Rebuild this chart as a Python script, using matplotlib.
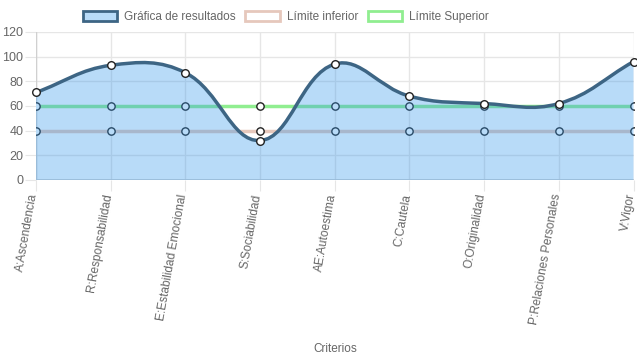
import numpy as np
import matplotlib.pyplot as plt
import matplotlib.transforms as mtransforms
from matplotlib.path import Path
from matplotlib.patches import PathPatch, Patch

plt.rcParams['font.family'] = ['Liberation Sans', 'DejaVu Sans']

# Data
criterios = ['A:Ascendencia', 'R:Responsabilidad', 'E:Estabilidad Emocional',
             'S:Sociabilidad', 'AE:Autoestima', 'C:Cautela', 'O:Originalidad',
             'P:Relaciones Personales', 'V:Vigor']
resultados = [71, 93, 87, 32, 94, 68, 62, 62, 96]
limite_inferior = [40, 40, 40, 40, 40, 40, 40, 40, 40]
limite_superior = [60, 60, 60, 60, 60, 60, 60, 60, 60]

W, H = 637, 359
fig = plt.figure(figsize=(W / 100, H / 100), dpi=100)
left, right, top, bottom = 36, 633.5, 32, 180
ax = fig.add_axes([left / W, 1 - bottom / H, (right - left) / W, (bottom - top) / H])
n = len(criterios)
ax.set_xlim(0, n - 1)
ax.set_ylim(0, 120)


def chartjs_curve(xs, ys, tension=0.4):
    # Chart.js style bezier curve, control points computed in pixel space
    pts = ax.transData.transform(np.column_stack([xs, ys]))
    verts = [pts[0]]
    codes = [Path.MOVETO]
    ctrl = []
    for i in range(len(pts)):
        prev = pts[i - 1] if i > 0 else pts[i]
        cur = pts[i]
        nxt = pts[i + 1] if i < len(pts) - 1 else pts[i]
        d01 = np.hypot(*(cur - prev))
        d12 = np.hypot(*(nxt - cur))
        tot = d01 + d12
        s01 = d01 / tot if tot else 0
        s12 = d12 / tot if tot else 0
        fa, fb = tension * s01, tension * s12
        ctrl.append((cur - fa * (nxt - prev), cur + fb * (nxt - prev)))
    for i in range(1, len(pts)):
        verts += [ctrl[i - 1][1], ctrl[i][0], pts[i]]
        codes += [Path.CURVE4] * 3
    inv = ax.transData.inverted()
    return inv.transform(np.array(verts)), codes


x = np.arange(n)

# grid
ax.set_yticks(range(0, 121, 20))
ax.set_xticks(x)
ax.grid(True, color='#e6e6e6', linewidth=1)
ax.set_axisbelow(True)
for s in ax.spines.values():
    s.set_visible(False)
ax.axhline(0, color='#d0d0d0', linewidth=2, zorder=1)
ax.axvline(0, color='#d0d0d0', linewidth=1, zorder=1)
ax.tick_params(axis='both', length=8, color='#e6e6e6', labelcolor='#666666', labelsize=9)
ax.tick_params(axis='y', pad=1)
ax.tick_params(axis='x', pad=2)
ax.set_xticklabels(criterios, rotation=80, ha='right', va='center', rotation_mode='anchor', fontsize=8.6)
shift = mtransforms.ScaledTranslation(-2 / 100, 0, fig.dpi_scale_trans)
for lbl in ax.get_xticklabels():
    lbl.set_transform(lbl.get_transform() + shift)

# limit lines (drawn under the results fill)
ax.plot(x, limite_superior, color='#90ee90', linewidth=2.5, zorder=2)
ax.plot(x, limite_inferior, color='#e6c8bc', linewidth=2.5, zorder=2)
ax.scatter(x, limite_superior, s=28, facecolor='white', edgecolor='#222222', linewidth=1, zorder=3)
ax.scatter(x, limite_inferior, s=28, facecolor='white', edgecolor='#222222', linewidth=1, zorder=3)

# results curve with fill to zero
verts, codes = chartjs_curve(x, resultados)
fill_verts = np.vstack([verts, [[n - 1, 0], [0, 0], verts[0]]])
fill_codes = codes + [Path.LINETO, Path.LINETO, Path.CLOSEPOLY]
fill_color = (54 / 255, 152 / 255, 235 / 255, 0.35)
ax.add_patch(PathPatch(Path(fill_verts, fill_codes), facecolor=fill_color, edgecolor='none', zorder=4))
ax.add_patch(PathPatch(Path(verts, codes), facecolor='none', edgecolor='#3d6584', linewidth=2.5, zorder=5))
ax.scatter(x, resultados, s=30, facecolor='white', edgecolor='#222222', linewidth=1, zorder=6, clip_on=False)

ax.set_xlabel('Criterios', color='#666666', fontsize=8.5)
ax.xaxis.set_label_coords(0.5, -1.1)

# legend
handles = [Patch(facecolor=fill_color, edgecolor='#3d6584', linewidth=2),
           Patch(facecolor='white', edgecolor='#e6c8bc', linewidth=2),
           Patch(facecolor='white', edgecolor='#90ee90', linewidth=2)]
fig.legend(handles, ['Gráfica de resultados', 'Límite inferior', 'Límite Superior'],
           loc='upper left', bbox_to_anchor=(76 / W, 0.99), ncol=3, frameon=False,
           fontsize=8.5, labelcolor='#666666',
           handlelength=2.9, handleheight=0.95,
           columnspacing=0.8, handletextpad=0.6, borderaxespad=0.2)

fig.savefig('out.png', dpi=100)
